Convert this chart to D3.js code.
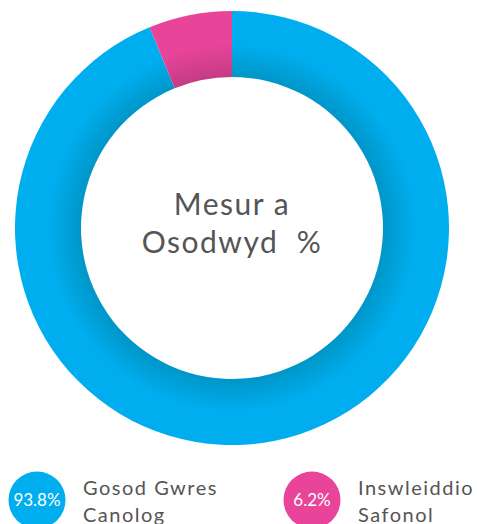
<!DOCTYPE html>
<html>
<head>
<meta charset="utf-8">
<script src="https://cdn.jsdelivr.net/npm/d3@7"></script>
<style>
  body { margin: 0; background: #fff; }
  svg { display: block; font-family: "Lato", "Noto Sans", sans-serif; }
  text { white-space: pre; }
</style>
</head>
<body>
<div id="container"></div>
<script>
const categories = ["Gosod Gwres Canolog", "Inswleiddio Safonol"];
const values = [93.8, 6.2];
const labelLines = [["Gosod Gwres", "Canolog"], ["Inswleiddio", "Safonol"]];
const colors = ["#00aeef", "#e8449a"];
const darkColors = ["#0096c8", "#c43c83"];
const title = ["Mesur a", "Osodwyd  %"];

const w = 477, h = 524;
const cx = 232, cy = 228;
const outerR = 217, innerR = 151;

const svg = d3.select("#container").append("svg")
  .attr("width", w).attr("height", h);

// radial shading: darker toward the inner edge of the ring
const defs = svg.append("defs");
colors.forEach((c, i) => {
  const g = defs.append("radialGradient")
    .attr("id", "grad" + i)
    .attr("gradientUnits", "userSpaceOnUse")
    .attr("cx", 0).attr("cy", 0).attr("r", outerR);
  g.append("stop").attr("offset", innerR / outerR).attr("stop-color", darkColors[i]);
  g.append("stop").attr("offset", 0.85).attr("stop-color", c);
  g.append("stop").attr("offset", 1).attr("stop-color", c);
});

const pie = d3.pie().sort(null).value(d => d);
const arc = d3.arc().innerRadius(innerR).outerRadius(outerR);

svg.append("g")
  .attr("transform", `translate(${cx},${cy})`)
  .selectAll("path")
  .data(pie(values))
  .enter().append("path")
  .attr("d", arc)
  .attr("fill", (d, i) => `url(#grad${i})`);

// centre title
svg.append("text")
  .attr("x", cx).attr("y", 215)
  .attr("text-anchor", "middle")
  .attr("fill", "#555")
  .attr("font-size", 30)
  .attr("letter-spacing", 1.5)
  .selectAll("tspan")
  .data(title)
  .enter().append("tspan")
  .attr("x", cx + 12 * 0)
  .attr("dy", (d, i) => i === 0 ? 0 : 38)
  .text(d => d);

// legend
const legendX = [37, 312];
const legend = svg.selectAll("g.legend")
  .data(categories)
  .enter().append("g")
  .attr("class", "legend")
  .attr("transform", (d, i) => `translate(${legendX[i]},500)`);

legend.append("circle")
  .attr("r", 28.5)
  .attr("fill", (d, i) => colors[i]);

legend.append("text")
  .attr("text-anchor", "middle")
  .attr("dy", "0.35em")
  .attr("fill", "#fff")
  .attr("font-size", 17)
  .text((d, i) => values[i] + "%");

legend.append("text")
  .attr("x", 46)
  .attr("y", -5)
  .attr("fill", "#555")
  .attr("font-size", 20)
  .attr("letter-spacing", 1.5)
  .selectAll("tspan")
  .data((d, i) => labelLines[i])
  .enter().append("tspan")
  .attr("x", 46)
  .attr("dy", (d, i) => i === 0 ? 0 : 27)
  .text(d => d);
</script>
</body>
</html>
